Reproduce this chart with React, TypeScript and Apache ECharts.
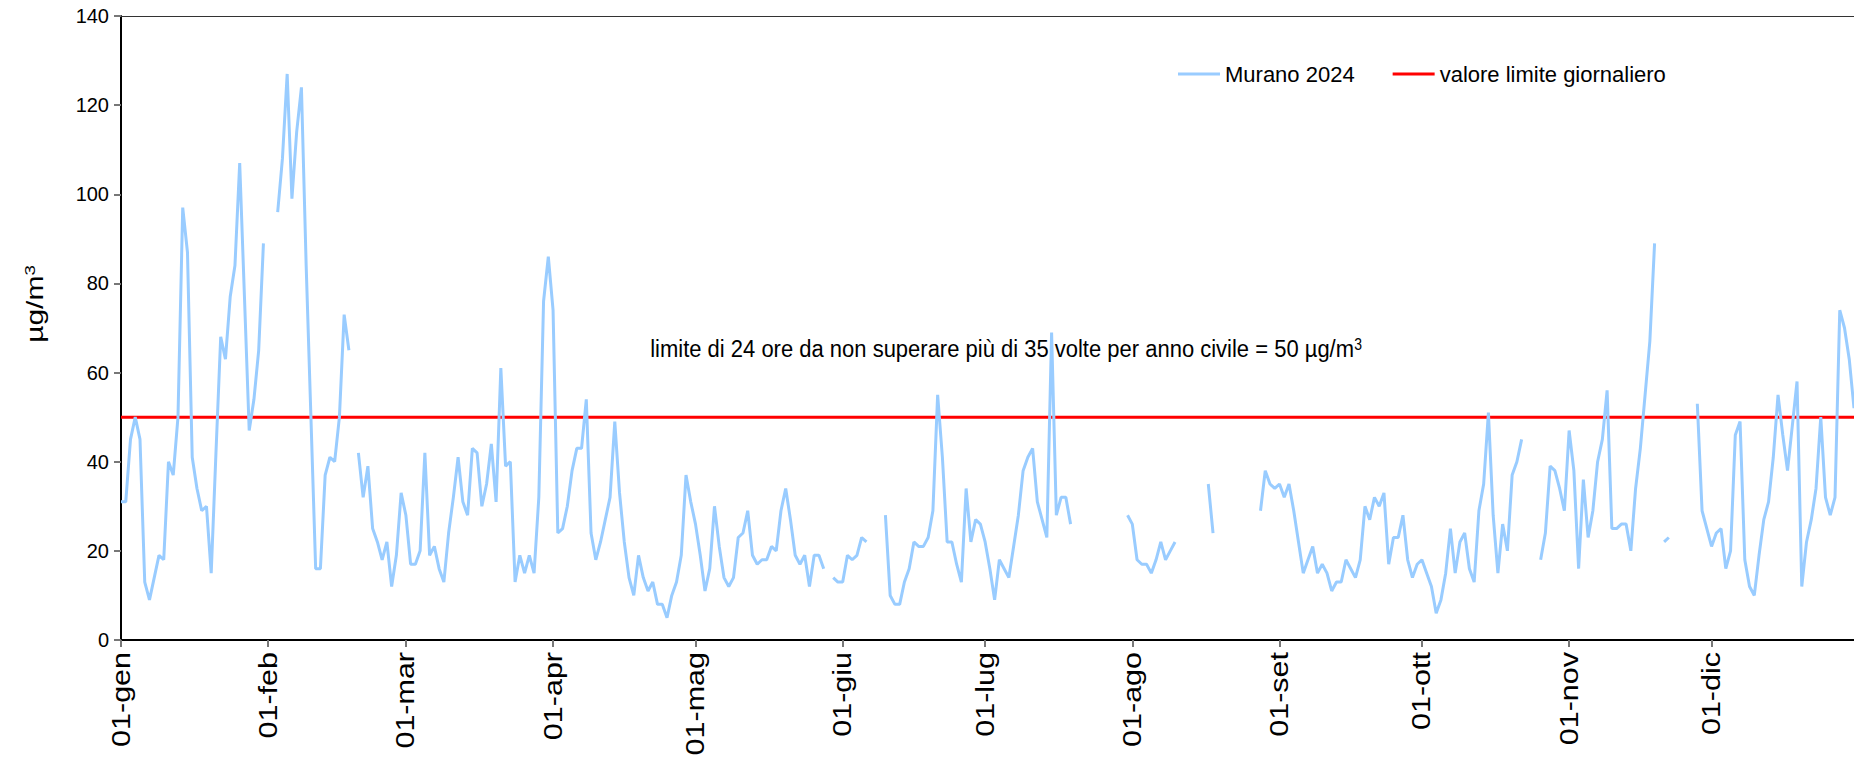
import React, { useEffect, useRef } from "react";
import * as echarts from "echarts";

const monthNames = ["gen", "feb", "mar", "apr", "mag", "giu", "lug", "ago", "set", "ott", "nov", "dic"];
const monthLengths = [31, 29, 31, 30, 31, 30, 31, 31, 30, 31, 30, 31];

const dayLabels: string[] = [];
monthNames.forEach((m, i) => {
  for (let d = 1; d <= monthLengths[i]; d++) dayLabels.push(`${String(d).padStart(2, "0")}-${m}`);
});

const _ = null;
const janValues = [31, 31, 45, 50, 45, 13, 9, 14, 19, 18, 40, 37, 50, 97, 87, 41, 34, 29, 30, 15, 42, 68, 63, 77, 84, 107, 77, 47, 54, 65, 89];
const febValues = [_, _, 96, 108, 127, 99, 114, 124, 84, 50, 16, 16, 37, 41, 40, 50, 73, 65, _, 42, 32, 39, 25, 22, 18, 22, 12, 19, 33];
const marValues = [28, 17, 17, 20, 42, 19, 21, 16, 13, 24, 32, 41, 31, 28, 43, 42, 30, 35, 44, 31, 61, 39, 40, 13, 19, 15, 19, 15, 32, 76, 86];
const aprValues = [74, 24, 25, 30, 38, 43, 43, 54, 24, 18, 22, 27, 32, 49, 33, 22, 14, 10, 19, 14, 11, 13, 8, 8, 5, 10, 13, 19, 37, 31];
const mayValues = [26, 19, 11, 16, 30, 21, 14, 12, 14, 23, 24, 29, 19, 17, 18, 18, 21, 20, 29, 34, 27, 19, 17, 19, 12, 19, 19, 16, _, 14, 13];
const junValues = [13, 19, 18, 19, 23, 22, _, _, _, 28, 10, 8, 8, 13, 16, 22, 21, 21, 23, 29, 55, 41, 22, 22, 17, 13, 34, 22, 27, 26];
const julValues = [22, 16, 9, 18, 16, 14, 21, 28, 38, 41, 43, 31, 27, 23, 69, 28, 32, 32, 26, _, _, _, _, _, _, _, _, _, _, _, 28];
const augValues = [26, 18, 17, 17, 15, 18, 22, 18, 20, 22, _, _, _, _, _, _, 35, 24, _, _, _, _, _, _, _, _, _, 29, 38, 35, 34];
const sepValues = [35, 32, 35, 29, 22, 15, 18, 21, 15, 17, 15, 11, 13, 13, 18, 16, 14, 18, 30, 27, 32, 30, 33, 17, 23, 23, 28, 18, 14, 17];
const octValues = [18, 15, 12, 6, 9, 15, 25, 15, 22, 24, 16, 13, 29, 35, 51, 28, 15, 26, 20, 37, 40, 45, _, _, _, 18, 24, 39, 38, 34, 29];
const novValues = [47, 38, 16, 36, 23, 29, 40, 45, 56, 25, 25, 26, 26, 20, 34, 43, 55, 67, 89, _, 22, 23, _, _, _, _, _, 53, 29, 25];
const decValues = [21, 24, 25, 16, 20, 46, 49, 18, 12, 10, 19, 27, 31, 41, 55, 46, 38, 48, 58, 12, 22, 27, 34, 50, 32, 28, 32, 74, 70, 63, 52];

const murano2024 = [
  ...janValues, ...febValues, ...marValues, ...aprValues, ...mayValues, ...junValues,
  ...julValues, ...augValues, ...sepValues, ...octValues, ...novValues, ...decValues,
];

const LIMIT = 50;
const limitValues = dayLabels.map(() => LIMIT);

const yMin = 0;
const yMax = 140;
const yStep = 20;

const seriesNames = ["Murano 2024", "valore limite giornaliero"];
const annotation = "limite di 24 ore da non superare più di 35 volte per anno civile = 50 µg/m";
const unitText = "µg/m";

const FONT = "'Liberation Sans', Arial, Helvetica, sans-serif";
const isMonthStart = (_i: number, v: string) => v.startsWith("01-");

export default function App() {
  const ref = useRef<HTMLDivElement>(null);
  useEffect(() => {
    document.body.style.margin = "0";
    if (!ref.current) return;
    const chart = echarts.init(ref.current, undefined, { renderer: "svg" });
    chart.setOption({
      animation: false,
      backgroundColor: "#ffffff",
      textStyle: { fontFamily: FONT },
      grid: { left: 121, right: 0, top: 16, bottom: 122, containLabel: false },
      legend: {
        left: 1173,
        top: 58,
        icon: "rect",
        itemWidth: 42,
        itemHeight: 3,
        itemGap: 38,
        textStyle: { fontSize: 22, color: "#000", fontFamily: FONT },
        data: seriesNames,
      },
      xAxis: [
        {
          type: "category",
          data: dayLabels,
          boundaryGap: false,
          axisLine: { lineStyle: { color: "#000", width: 2 } },
          axisTick: { interval: isMonthStart, length: 7, lineStyle: { color: "#777", width: 2 } },
          axisLabel: { show: false },
          splitLine: { show: false },
        },
        {
          type: "category",
          data: dayLabels,
          boundaryGap: false,
          position: "top",
          axisLine: { lineStyle: { color: "#333", width: 1 } },
          axisTick: { show: false },
          axisLabel: { show: false },
          splitLine: { show: false },
        },
      ],
      yAxis: {
        type: "value",
        min: yMin,
        max: yMax,
        interval: yStep,
        axisLine: { show: true, lineStyle: { color: "#000", width: 2 } },
        axisTick: { show: true, length: 7, lineStyle: { color: "#777", width: 2 } },
        axisLabel: { fontSize: 20, color: "#000", margin: 12, fontFamily: FONT },
        splitLine: { show: false },
      },
      series: [
        {
          name: seriesNames[1],
          type: "line",
          data: limitValues,
          symbol: "none",
          lineStyle: { color: "#FF0000", width: 3 },
          itemStyle: { color: "#FF0000" },
          z: 2,
        },
        {
          name: seriesNames[0],
          type: "line",
          data: murano2024,
          symbol: "none",
          showSymbol: false,
          connectNulls: false,
          lineStyle: { color: "#99CCFF", width: 3 },
          itemStyle: { color: "#99CCFF" },
          z: 3,
        },
      ],
    });

    const axisY = chart.convertToPixel({ yAxisIndex: 0 }, yMin) as number;
    const monthLabelGraphics = dayLabels
      .filter((lbl, i) => isMonthStart(i, lbl))
      .map((lbl) => ({
        type: "text",
        x: chart.convertToPixel({ xAxisIndex: 0 }, lbl) as number,
        y: axisY + 12,
        rotation: Math.PI / 2,
        scaleX: 1.22,
        style: {
          text: lbl,
          align: "right",
          verticalAlign: "middle",
          fontSize: 25,
          fontFamily: FONT,
          fill: "#000",
        },
      }));

    chart.setOption({
      graphic: [
        {
          type: "text",
          x: 35,
          y: 304,
          rotation: Math.PI / 2,
          scaleX: 1.25,
          style: {
            text: `{a|${unitText}}{s|3}`,
            align: "center",
            verticalAlign: "middle",
            fill: "#000",
            rich: {
              a: { fontSize: 24, fontFamily: FONT, fill: "#000" },
              s: { fontSize: 15, fontFamily: FONT, fill: "#000", verticalAlign: "top" },
            },
          },
        },
        {
          type: "text",
          x: 1006,
          y: 349,
          scaleY: 1.12,
          style: {
            text: `{a|${annotation}}{s|3}`,
            align: "center",
            verticalAlign: "middle",
            fill: "#000",
            rich: {
              a: { fontSize: 22, fontFamily: FONT, fill: "#000" },
              s: { fontSize: 14, fontFamily: FONT, fill: "#000", verticalAlign: "top" },
            },
          },
        },
        ...monthLabelGraphics,
      ],
    });
    return () => chart.dispose();
  }, []);
  return <div ref={ref} style={{ width: 1854, height: 762 }} />;
}
